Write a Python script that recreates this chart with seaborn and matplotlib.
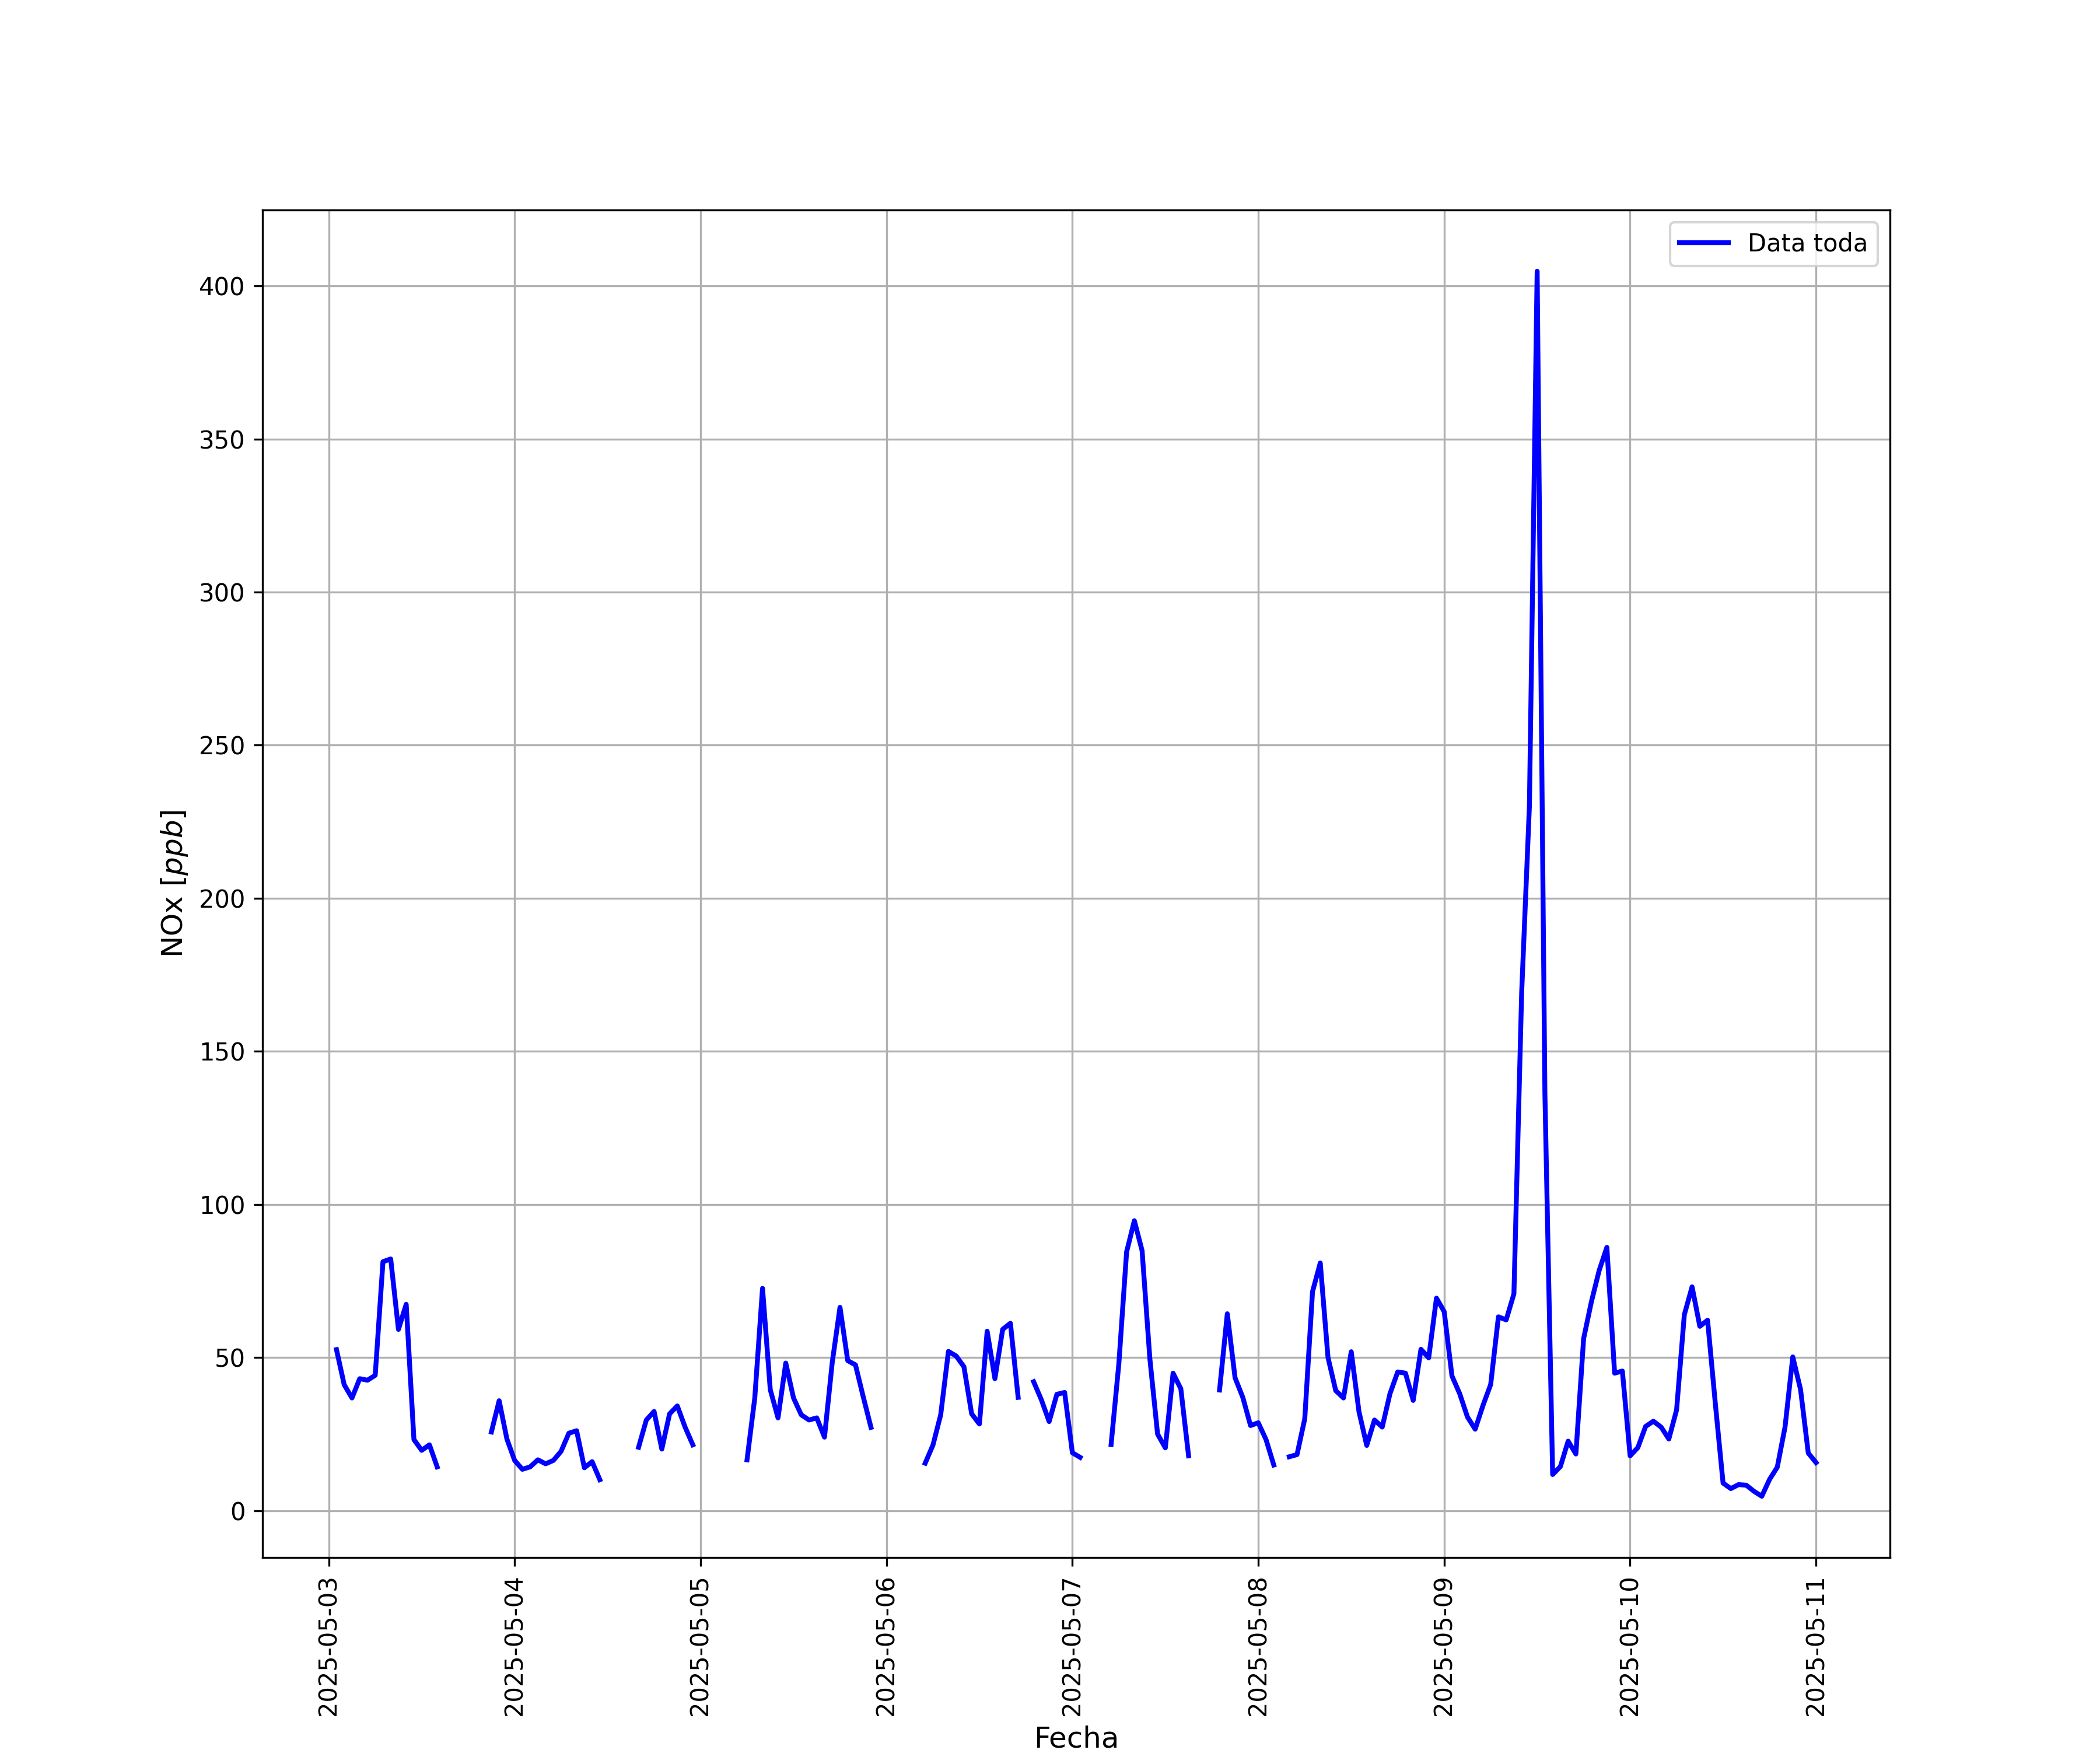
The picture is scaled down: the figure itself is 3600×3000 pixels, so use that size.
import matplotlib
matplotlib.use("Agg")
import matplotlib.dates as mdates
import matplotlib.pyplot as plt
import numpy as np
import pandas as pd
import seaborn as sns

nan = np.nan

# hourly NOx [ppb]; first value is 2025-05-03 01:00, nan = no data
START = "2025-05-03 01:00"
nox_0503 = [52.6, 41.1, 36.8, 43.1, 42.6, 44.2, 81.3, 82.2, 59.2, 67.4, 23.2, 19.7,
            21.5, 14.3, nan, nan, nan, nan, nan, nan, 25.7, 35.9, 23.4]
nox_0504 = [16.4, 13.5, 14.3, 16.6, 15.3, 16.4, 19.4, 25.3, 26.1, 14.0, 16.0, 10.1,
            nan, nan, nan, nan, 20.7, 29.6, 32.4, 20.1, 31.6, 34.2, 27.3, 21.5]
nox_0505 = [nan, nan, nan, nan, nan, nan, 16.6, 36.8, 72.6, 39.5, 30.3, 48.2,
            36.8, 31.3, 29.6, 30.3, 24.0, 48.4, 66.4, 49.0, 47.6, 37.2, 27.2, nan]
nox_0506 = [nan, nan, nan, nan, nan, 15.5, 21.4, 31.3, 52.0, 50.5, 47.0, 31.6,
            28.3, 58.6, 43.1, 59.2, 61.2, 37.0, nan, 42.1, 36.2, 29.1, 38.0, 38.6]
nox_0507 = [18.9, 17.4, nan, nan, nan, 21.6, 48.0, 84.5, 94.7, 84.9, 49.7, 25.0,
            20.5, 44.9, 39.8, 17.9, nan, nan, nan, 39.4, 64.3, 43.4, 37.0, 27.8]
nox_0508 = [28.7, 23.2, 14.9, nan, 17.6, 18.3, 30.0, 71.5, 80.9, 50.0, 39.2, 36.8,
            51.9, 32.3, 21.3, 29.6, 27.3, 38.2, 45.3, 44.9, 36.0, 52.7, 49.9, 69.4]
nox_0509 = [65.0, 44.0, 38.2, 30.6, 26.6, 34.3, 41.2, 63.3, 62.3, 70.8, 169.2, 230.2,
            404.8, 136.2, 11.8, 14.4, 22.7, 18.5, 56.2, 68.2, 78.4, 86.0, 44.9, 45.6]
nox_0510 = [17.9, 20.6, 27.5, 29.2, 27.3, 23.4, 32.9, 64.0, 73.1, 60.2, 62.2, 35.0,
            9.0, 7.2, 8.5, 8.3, 6.3, 4.7, 10.2, 14.2, 27.3, 50.2, 39.6, 18.8]
nox_0511 = [15.7]

nox = nox_0503 + nox_0504 + nox_0505 + nox_0506 + nox_0507 + nox_0508 + nox_0509 + nox_0510 + nox_0511
fechas = pd.date_range(START, periods=len(nox), freq="h")

df = pd.DataFrame({"Fecha": fechas, "NOx": nox})
# split at the gaps so that missing hours stay as breaks in the line
df["tramo"] = df["NOx"].isna().cumsum()
df = df.dropna()

fig, ax = plt.subplots(figsize=(12, 10), dpi=300)

for i, (_, tramo) in enumerate(df.groupby("tramo")):
    kw = {"label": "Data toda"} if i == 0 else {}
    sns.lineplot(data=tramo, x="Fecha", y="NOx", ax=ax, color="blue",
                 linewidth=2, estimator=None, **kw)

ax.xaxis.set_major_locator(mdates.DayLocator())
ax.xaxis.set_major_formatter(mdates.DateFormatter("%Y-%m-%d"))
plt.setp(ax.get_xticklabels(), rotation=90)

ax.set_xlabel("Fecha", fontsize=12)
ax.set_ylabel("NOx [$ppb$]", fontsize=12)
ax.grid(True)
ax.legend(loc="upper right")

fig.savefig("out.png", dpi=300)
